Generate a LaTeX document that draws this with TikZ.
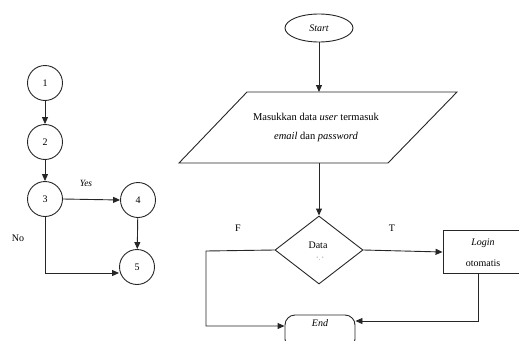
\documentclass[tikz,border=0pt]{standalone}
\usepackage{fontspec}
\setmainfont{Liberation Serif}
\usetikzlibrary{arrows.meta,shapes.geometric}
\begin{document}
\begin{tikzpicture}[x=1pt,y=-1pt,
  every node/.style={font=\fontsize{10}{12}\selectfont},
  line/.style={line width=0.9pt, draw=black!85},
  arr/.style={line, -{Triangle[length=7pt,width=6pt]}},
  numnode/.style={circle, line, minimum size=35pt, inner sep=0pt},
  term/.style={ellipse, line, minimum width=68pt, minimum height=28pt, inner sep=0pt, font=\fontsize{10}{12}\selectfont\itshape},
  lbl/.style={inner sep=0pt}
]
\useasboundingbox (0,0) rectangle (519,340);

% path graph
\node[numnode] (n1) at (45,83) {1};
\node[numnode] (n2) at (45,142) {2};
\node[numnode] (n3) at (45,199) {3};
\node[numnode] (n4) at (138,200) {4};
\node[numnode] (n5) at (137,267) {5};
\draw[arr] (n1) -- (n2);
\draw[arr] (n2) -- (n3);
\draw[arr] (n3.east) -- (n4.west);
\draw[arr] (n4) -- (n5);
\coordinate (c35) at (45,273);
\draw[arr] (n3.south) -- (c35) -- (n5.west |- c35);
\node[lbl, font=\fontsize{9.5}{11}\selectfont\itshape] (yes) at (86,183) {Yes};
\node[lbl] (no) at (18,238) {No};

% flowchart
\node[term] (start) at (319,28) {Start};
\coordinate (p1) at (247,92);
\coordinate (p2) at (457,92);
\coordinate (p3) at (388,163);
\coordinate (p4) at (179,163);
\draw[line] (p1) -- (p2) -- (p3) -- (p4) -- cycle;
\node[lbl, align=center, font=\fontsize{10.5}{19}\selectfont] (input) at (316,127.5)
  {Masukkan data \textit{user} termasuk\\ \textit{email} dan \textit{password}};
\coordinate (ptop) at (319,92);
\coordinate (pbot) at (319,163);
\draw[arr] (start) -- (ptop);

\node[diamond, line, minimum width=88pt, minimum height=68pt, inner sep=0pt, aspect=1.3] (dec) at (319,250) {};
\node[lbl] (data) at (318,245) {Data};
\node[lbl, font=\fontsize{5}{6}\selectfont] (valid) at (320,259) {' . '};
\draw[arr] (pbot) -- (dec.north);

\node[draw=black!85, line width=0.9pt, minimum width=76pt, minimum height=43pt, inner sep=0pt] (login) at (481,252) {};
\node[lbl, font=\fontsize{10}{12}\selectfont\itshape] (lg1) at (483,243) {Login};
\node[lbl] (lg2) at (483,263) {otomatis};
\draw[arr] (dec.east) -- (login.west);

\node[draw=black!85, line width=0.9pt, rounded corners=10pt, minimum width=70pt, minimum height=34pt, inner sep=0pt] (end) at (320,332) {};
\node[lbl, font=\fontsize{10}{12}\selectfont\itshape] (endt) at (320,323) {End};

\coordinate (fl) at (206,251);
\coordinate (fb) at (206,326);
\draw[arr] (dec.west) -- (fl) -- (fb) -- (end.west |- fb);
\coordinate (tb) at (478,321);
\draw[arr] (login.south -| tb) -- (tb) -- (end.east |- tb);

\node[lbl] (f) at (238,228) {F};
\node[lbl] (t) at (392,228) {T};
\end{tikzpicture}
\end{document}
